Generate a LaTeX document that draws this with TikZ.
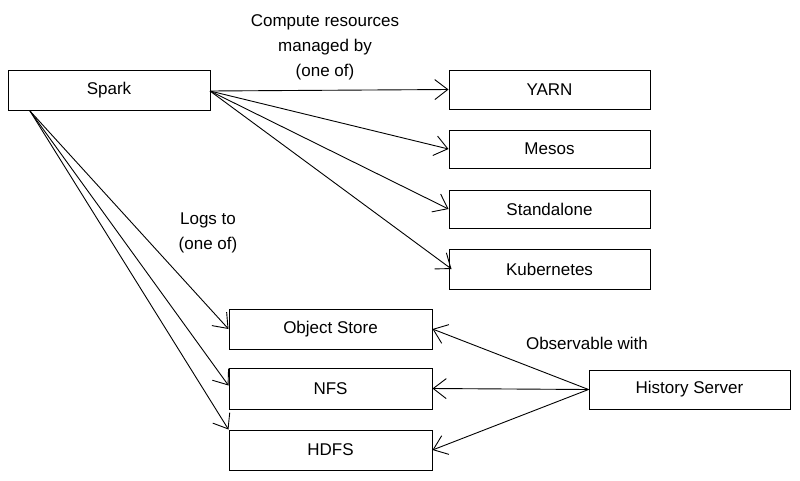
\documentclass[tikz,border=0pt]{standalone}
\usepackage{fontspec}
\setmainfont{Liberation Sans}
\usetikzlibrary{arrows.meta}
\begin{document}
\begin{tikzpicture}[x=1pt,y=-1pt,
  box/.style={draw=black, line width=1pt, fill=white, font=\fontsize{17}{20}\selectfont, inner sep=0pt},
  conn/.style={draw=black, line width=0.9pt, -{Straight Barb[length=13pt,width=20pt]}},
  lbl/.style={font=\fontsize{17}{25}\selectfont, align=center, inner sep=0pt}]
\useasboundingbox (0,0) rectangle (800,480);
\node[box, minimum width=202pt, minimum height=40pt] (spark) at (109,90) {Spark};
\node[box, minimum width=201pt, minimum height=39pt] (yarn) at (549.5,89.5) {YARN};
\node[box, minimum width=201pt, minimum height=38pt] (mesos) at (549.5,149) {Mesos};
\node[box, minimum width=201pt, minimum height=38pt] (standalone) at (549.5,209) {Standalone};
\node[box, minimum width=201pt, minimum height=40pt] (kube) at (549.5,269) {Kubernetes};
\node[box, minimum width=203pt, minimum height=40pt] (obj) at (330.5,329) {Object Store};
\node[box, minimum width=203pt, minimum height=41pt] (nfs) at (330.5,388.5) {NFS};
\node[box, minimum width=203pt, minimum height=40pt] (hdfs) at (330.5,450) {HDFS};
\node[box, minimum width=201pt, minimum height=39pt] (hist) at (689.5,389.5) {History Server};
\coordinate (sr) at (210,91);
\coordinate (sb) at (30,111);
\draw[conn] (sr) -- (yarn.west);
\draw[conn] (sr) -- (mesos.west);
\draw[conn] (sr) -- (standalone.west);
\draw[conn] (sr) -- ([xshift=3pt]kube.west);
\draw[conn] (sb) -- (obj.west);
\draw[conn] (sb) -- ([yshift=3pt]nfs.west);
\draw[conn] (sb) -- (hdfs.north west);
\draw[conn] (hist.west) -- (obj.east);
\draw[conn] (hist.west) -- (nfs.east);
\draw[conn] (hist.west) -- (hdfs.east);
\node[lbl] (l1) at (325,47) {Compute resources\\managed by\\(one of)};
\node[lbl] (l2) at (208,233) {Logs to\\(one of)};
\node[lbl] (l3) at (587,343) {Observable with};
\end{tikzpicture}
\end{document}
